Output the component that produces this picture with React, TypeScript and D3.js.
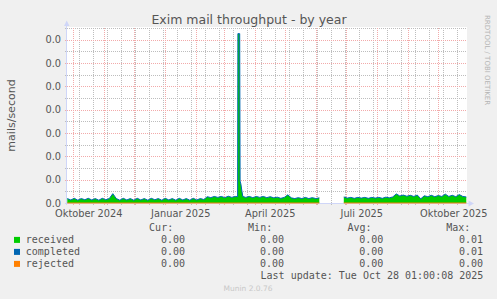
import React from "react";
import * as d3 from "d3";

// ---- data (day offsets from 2024-10-01 UTC, values in mails/second) ----
const days = [
  -6, -2.5, 1, 4.5, 8, 11.5, 15, 18.5, 22, 25.5, 29, 32.5, 36, 39.5, 43, 46.5, 50, 53.5, 57, 60.5,
  64, 67.5, 71, 74.5, 78, 81.5, 85, 88.5, 92, 95.5, 99, 102.5, 106, 109.5, 113, 116.5, 120, 123.5,
  127, 130.5, 134, 137.5, 141, 144.5, 148, 151.5, 155, 158.5, 162,
  164.3, 164.6, 166.4, 166.8, 167.6, 168.6, 169.5,
  172.5, 176, 179.5, 183, 186.5, 190, 193.5, 197, 200.5, 204, 207.5, 211, 214.5, 218, 221.5, 225,
  228.5, 232, 235.5, 239, 242.5, 246, 249.5, 253, 256.5, 260, 263.5, 267, 270.5, 274, 277.5, 281,
  284.5, 288, 291.5, 295, 298.5, 302, 305.5, 309, 312.5, 316, 319.5, 323, 326.5, 330, 333.5, 337,
  340.5, 344, 347.5, 351, 354.5, 358, 361.5, 365, 368.5, 372, 375.5, 379, 382.5, 386, 389.5, 393,
];

const received: (number | null)[] = [
  0.00019, 0.00013, 0.0002, 0.00012, 0.00019, 0.00014, 0.0002, 0.00013, 0.00019, 0.00012,
  0.0002, 0.00014, 0.00019, 0.0004, 0.00019, 0.00012, 0.0002, 0.00013, 0.00019, 0.00012,
  0.0002, 0.00013, 0.00019, 0.00012, 0.0002, 0.00014, 0.00019, 0.00012, 0.0002, 0.00013,
  0.00019, 0.00012, 0.0002, 0.00013, 0.00019, 0.00012, 0.0002, 0.00013, 0.00019, 0.00015,
  0.00027, 0.00023, 0.00028, 0.00024, 0.00028, 0.00023, 0.00029, 0.00024, 0.00028,
  0.00027, 0.00724, 0.00724, 0.00094, 0.00081, 0.00051, 0.00028,
  0.00024, 0.00028, 0.00023, 0.00028, 0.00024, 0.00028, 0.00023, 0.00027, 0.00022, 0.00025,
  0.0002, 0.00024, 0.00035, 0.00022, 0.00019, 0.00023, 0.00019, 0.00024, 0.00019, 0.00023,
  0.00019, 0.00022, null, null, null, null, null, null,
  0.00026, 0.00021, 0.00024, 0.0002, 0.00024, 0.00021, 0.00024, 0.0002, 0.00024, 0.00021,
  0.00024, 0.0002, 0.00025, 0.00022, 0.00026, 0.00039, 0.0003, 0.00034, 0.00029, 0.00033,
  0.00028, 0.00034, 0.00018, 0.00031, 0.00027, 0.00033, 0.00027, 0.00032, 0.00028, 0.00038,
  0.00028, 0.00033, 0.00027, 0.00036, 0.00028, 0.00026,
];

const completed: (number | null)[] = [
  0.00019, 0.00013, 0.0002, 0.00012, 0.00019, 0.00014, 0.0002, 0.00013, 0.00019, 0.00012,
  0.0002, 0.00014, 0.00019, 0.0004, 0.00019, 0.00012, 0.0002, 0.00013, 0.00019, 0.00012,
  0.0002, 0.00013, 0.00019, 0.00012, 0.0002, 0.00014, 0.00019, 0.00012, 0.0002, 0.00013,
  0.00019, 0.00012, 0.0002, 0.00013, 0.00019, 0.00012, 0.0002, 0.00013, 0.00019, 0.00015,
  0.00027, 0.00023, 0.00028, 0.00024, 0.00028, 0.00023, 0.00029, 0.00024, 0.00028,
  0.00027, 0.00726, 0.00726, 0.00094, 0.00081, 0.00051, 0.00028,
  0.00024, 0.00028, 0.00023, 0.00028, 0.00024, 0.00028, 0.00023, 0.00027, 0.00022, 0.00025,
  0.0002, 0.00024, 0.00035, 0.00022, 0.00019, 0.00023, 0.00019, 0.00024, 0.00019, 0.00023,
  0.00019, 0.00022, null, null, null, null, null, null,
  0.00026, 0.00021, 0.00024, 0.0002, 0.00024, 0.00021, 0.00024, 0.0002, 0.00024, 0.00021,
  0.00024, 0.0002, 0.00025, 0.00022, 0.00026, 0.00039, 0.0003, 0.00034, 0.00029, 0.00033,
  0.00028, 0.00034, 0.00018, 0.00031, 0.00027, 0.00033, 0.00027, 0.00032, 0.00028, 0.00038,
  0.00028, 0.00033, 0.00027, 0.00036, 0.00028, 0.00026,
];

const rejectedDays = [-6, 246, 258, 270.5, 393];
const rejected: (number | null)[] = [0, 0, null, 0, 0];

const yTicks = [0, 0.001, 0.002, 0.003, 0.004, 0.005, 0.006, 0.007];
const yMinorTicks = [0.0005, 0.0015, 0.0025, 0.0035, 0.0045, 0.0055, 0.0065, 0.0075];
const labelMonths = ["2024-10-01", "2025-01-01", "2025-04-01", "2025-07-01", "2025-10-01"];
const monthLabels = ["Oktober 2024", "Januar 2025", "April 2025", "Juli 2025", "Oktober 2025"];

const seriesNames = ["received", "completed", "rejected"];
const seriesColors = ["#00cc00", "#0066b3", "#ff8000"];
const curVals = ["0.00", "0.00", "0.00"];
const minVals = ["0.00", "0.00", "0.00"];
const avgVals = ["0.00", "0.00", "0.00"];
const maxVals = ["0.01", "0.01", "0.00"];

const DAY = 86400000;
const ORIGIN = Date.UTC(2024, 9, 1);
const toDate = (d: number) => new Date(ORIGIN + d * DAY);

export default function App() {
  const W = 497, H = 299;
  const left = 67, right = 467, top = 28, bottom = 203;
  const x = d3.scaleUtc().domain([toDate(-6.3), toDate(393.7)]).range([left, right]);
  const y = d3.scaleLinear().domain([0, 0.0075]).range([bottom, top]);
  const snap = (v: number) => Math.round(v) + 0.5;

  const recPts = days.map((d, i) => ({ t: toDate(d), v: received[i] }));
  const compPts = days.map((d, i) => ({ t: toDate(d), v: completed[i] }));
  const rejPts = rejectedDays.map((d, i) => ({ t: toDate(d), v: rejected[i] }));

  const area = d3
    .area<{ t: Date; v: number | null }>()
    .defined((p) => p.v != null)
    .x((p) => x(p.t))
    .y0(y(0))
    .y1((p) => y(p.v as number));
  const line = d3
    .line<{ t: Date; v: number | null }>()
    .defined((p) => p.v != null)
    .x((p) => x(p.t))
    .y((p) => y(p.v as number));

  const [d0, d1] = x.domain();
  const months = d3.utcMonth.range(d0, d1);
  const biweekly = d3.utcDay.range(new Date(Date.UTC(2024, 9, 7)), d1, 14);
  const fmt = d3.format(".1f");

  const gridMinor = "#bdbdbd";
  const gridMajor = "#f2aaaa";
  const axisCol = "#cfd6f8";
  const font = "DejaVu Sans, sans-serif";
  const mono = "DejaVu Sans Mono, monospace";
  const textCol = "#555";

  const rowY = [243.2, 255.2, 267.2];

  return (
    <svg
      width={W}
      height={H}
      viewBox={`0 0 ${W} ${H}`}
      style={{ position: "absolute", left: 0, top: 0, display: "block" }}
    >
      <rect x={0} y={0} width={W} height={H} fill="#f0f0f0" />
      <rect x={left} y={top - 1} width={right - left} height={bottom - top + 1} fill="#ffffff" />

      {/* minor grid */}
      <g stroke={gridMinor} strokeWidth={1} strokeDasharray="1 1" shapeRendering="crispEdges">
        {yMinorTicks.map((t, i) => (
          <line key={"hm" + i} x1={left - 2} x2={right} y1={snap(y(t))} y2={snap(y(t))} />
        ))}
        {biweekly.map((d, i) => (
          <line key={"vm" + i} x1={snap(x(d))} x2={snap(x(d))} y1={top} y2={bottom + 2} />
        ))}
      </g>
      {/* major grid */}
      <g stroke={gridMajor} strokeWidth={1} strokeDasharray="1 1" shapeRendering="crispEdges">
        {yTicks.map((t, i) => (
          <line key={"hM" + i} x1={left - 2} x2={right} y1={snap(y(t))} y2={snap(y(t))} />
        ))}
        {months.map((d, i) => (
          <line key={"vM" + i} x1={snap(x(d))} x2={snap(x(d))} y1={top} y2={bottom + 3} />
        ))}
      </g>

      {/* axes */}
      <g shapeRendering="crispEdges">
        <line x1={66.5} x2={66.5} y1={bottom + 2} y2={24} stroke={axisCol} />
        <line x1={left - 2} x2={469} y1={snap(y(0))} y2={snap(y(0))} stroke={axisCol} />
      </g>
      <polygon points="64,26 69.5,26 66.7,20.5" fill={axisCol} />
      <polygon points="468.5,200.5 468.5,206.5 474,203.5" fill={axisCol} />

      {/* data */}
      <path d={area(recPts) || ""} fill="#00cc00" />
      <path d={line(compPts) || ""} fill="none" stroke="#0066b3" strokeWidth={1} />
      <path d={line(rejPts) || ""} fill="none" stroke="#ff8000" strokeWidth={1} />

      {/* y tick labels */}
      {yTicks.map((t, i) => (
        <text
          key={"yl" + i}
          x={61}
          y={y(t) + 3.6}
          textAnchor="end"
          fontFamily={font}
          fontSize={9.8}
          fill={textCol}
        >
          {fmt(t)}
        </text>
      ))}

      {/* x labels centered in month */}
      {labelMonths.map((m, i) => {
        const s = new Date(m + "T00:00:00Z");
        const e = d3.utcMonth.offset(s, 1);
        const cx = (x(s) + x(e)) / 2;
        return (
          <text
            key={"xl" + i}
            x={cx}
            y={216.5}
            textAnchor="middle"
            fontFamily={font}
            fontSize={9.8}
            fill={textCol}
          >
            {monthLabels[i]}
          </text>
        );
      })}

      {/* title */}
      <text x={249} y={23.5} textAnchor="middle" fontFamily={font} fontSize={12.5} fill={textCol}>
        Exim mail throughput - by year
      </text>

      {/* vertical axis label */}
      <text
        transform={`translate(15, ${(top + bottom) / 2}) rotate(-90)`}
        textAnchor="middle"
        fontFamily={font}
        fontSize={11}
        fill={textCol}
      >
        mails/second
      </text>

      {/* rrdtool watermark */}
      <text
        transform="translate(484.5, 15) rotate(90)"
        fontFamily={font}
        fontSize={7}
        fill="#b4b4b4"
      >
        RRDTOOL / TOBI OETIKER
      </text>

      {/* legend */}
      <g fontFamily={mono} fontSize={10} fill={textCol}>
        <text x={173.2} y={231.2} textAnchor="end">Cur:</text>
        <text x={272.2} y={231.2} textAnchor="end">Min:</text>
        <text x={371.6} y={231.2} textAnchor="end">Avg:</text>
        <text x={470.4} y={231.2} textAnchor="end">Max:</text>
        {seriesNames.map((n, i) => (
          <g key={"lg" + i}>
            <rect x={14} y={rowY[i] - 6.3} width={6} height={6} fill={seriesColors[i]} />
            <text x={25.8} y={rowY[i]}>{n}</text>
            <text x={185} y={rowY[i]} textAnchor="end">{curVals[i]}</text>
            <text x={284} y={rowY[i]} textAnchor="end">{minVals[i]}</text>
            <text x={383.3} y={rowY[i]} textAnchor="end">{avgVals[i]}</text>
            <text x={483} y={rowY[i]} textAnchor="end">{maxVals[i]}</text>
          </g>
        ))}
        <text x={483.3} y={279.2} textAnchor="end">Last update: Tue Oct 28 01:00:08 2025</text>
      </g>

      <text x={248} y={291} textAnchor="middle" fontFamily={font} fontSize={7.5} fill="#c8c8c8">
        Munin 2.0.76
      </text>
    </svg>
  );
}
